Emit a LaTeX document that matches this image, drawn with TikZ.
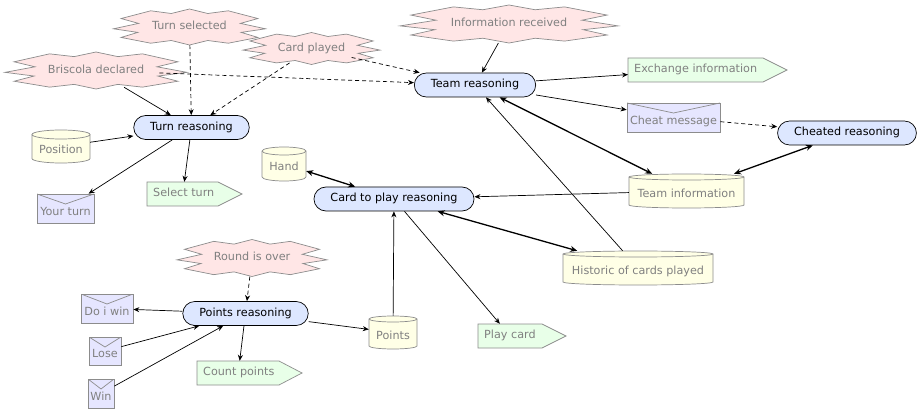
\documentclass[tikz,border=0pt]{standalone}
\usepackage{fontspec}
\setmainfont{DejaVu Sans}
\usetikzlibrary{shapes.geometric,arrows.meta}
\definecolor{burstfill}{RGB}{255,230,230}
\definecolor{reasonfill}{RGB}{221,231,255}
\definecolor{cylfill}{RGB}{255,255,230}
\definecolor{envfill}{RGB}{230,230,255}
\definecolor{sigfill}{RGB}{232,255,232}
\definecolor{bordergray}{RGB}{140,140,140}
\definecolor{textgray}{RGB}{128,128,128}
\newcommand\diafont{\fontsize{11.2}{13}\selectfont}
\tikzset{
  edge/.style={draw=black, line width=0.7pt, -{Stealth[length=6pt,width=5pt]}},
  dashedge/.style={edge, dash pattern=on 4pt off 3pt},
  dbl/.style={draw=black, line width=1.3pt, {Stealth[length=7pt,width=6pt]}-{Stealth[length=7pt,width=6pt]}},
  reason/.style={rectangle, rounded corners=12pt, draw=black, line width=0.7pt, fill=reasonfill,
    minimum height=24pt, inner xsep=16.5pt, inner ysep=0pt, text height=8.5pt, text depth=2.6pt, font=\diafont},
  burstline/.style={draw=bordergray, line width=0.7pt, fill=burstfill},
  burstnode/.style={ellipse, inner sep=0pt, text=textgray, font=\diafont, text height=8.5pt, text depth=2.6pt},
  cylline/.style={draw=bordergray, line width=0.7pt, fill=cylfill},
  cylnode/.style={rectangle, inner sep=0pt, text=textgray, font=\diafont, text height=16.5pt, text depth=2.6pt},
  env/.style={rectangle, draw=bordergray, line width=0.7pt, fill=envfill, inner sep=0pt, text=textgray,
    font=\diafont, text height=16.5pt, text depth=2.6pt,
    path picture={\draw[bordergray, line width=0.7pt] (path picture bounding box.north west) --
      ([yshift=-10pt]path picture bounding box.north) -- (path picture bounding box.north east);}},
  sigline/.style={draw=bordergray, line width=0.7pt, fill=sigfill},
  signode/.style={rectangle, inner xsep=6pt, inner ysep=0pt, text=textgray, font=\diafont,
    text height=8.5pt, text depth=2.6pt}
}
% burst: name, cx, cy, W, H, text
\newcommand\burst[6]{%
  \begin{scope}[shift={(#2,#3)}, x=#4pt, y=-#5pt]
    \draw[burstline] (-0.51,-0.9) -- (-0.24,-0.75) -- (0,-1) -- (0.24,-0.75) -- (0.51,-0.9)
      -- (0.9,-0.47) -- (0.67,-0.2) -- (1,0.1) -- (0.68,0.3) -- (0.9,0.58) -- (0.51,0.9)
      -- (0.24,0.75) -- (0,1) -- (-0.24,0.75) -- (-0.51,0.9) -- (-0.9,0.58) -- (-0.68,0.3)
      -- (-1,0.1) -- (-0.67,-0.2) -- (-0.9,-0.47) -- cycle;
  \end{scope}
  \node[burstnode, minimum width={#4*1.4pt}, minimum height={#5*2pt}] (#1) at (#2,#3) {\makebox[0pt]{#6}};
}
% cylinder: name, cx, cy, w, h, ry, text
\newcommand\cyl[7]{%
  \pgfmathsetmacro\cylL{#2-#4/2}%
  \pgfmathsetmacro\cylR{#2+#4/2}%
  \pgfmathsetmacro\cylT{#3-#5/2+#6}%
  \pgfmathsetmacro\cylB{#3+#5/2-#6}%
  \pgfmathsetmacro\cylRX{#4/2}%
  \draw[cylline] (\cylL,\cylT) -- (\cylL,\cylB) arc[start angle=180, end angle=360, x radius=\cylRX pt, y radius=#6pt]
    -- (\cylR,\cylT) arc[start angle=0, end angle=180, x radius=\cylRX pt, y radius=#6pt] -- cycle;
  \draw[draw=bordergray, line width=0.7pt] (\cylL,\cylT) arc[start angle=180, end angle=360, x radius=\cylRX pt, y radius=#6pt];
  \node[cylnode, minimum width=#4pt, minimum height=#5pt] (#1) at (#2,#3) {#7};
}
% signal: name, x0, y0, x1, x2, h, text
\newcommand\sig[7]{%
  \pgfmathsetmacro\sigM{#3+#6/2}%
  \pgfmathsetmacro\sigB{#3+#6}%
  \pgfmathsetmacro\sigW{#4-#2-12}%
  \draw[sigline] (#2,#3) -- (#4,#3) -- (#5,\sigM) -- (#4,\sigB) -- (#2,\sigB) -- cycle;
  \node[signode, anchor=west, minimum height=#6pt] (#1) at (#2,\sigM) {\makebox[\sigW pt][l]{#7}};
}
\begin{document}
\begin{tikzpicture}[x=1pt, y=-1pt]
\useasboundingbox (0,0) rectangle (924,414);
\fill[white] (0,0) rectangle (924,414);

% events
\burst{ts}{189.5}{27}{76}{18}{Turn selected}
\burst{cp}{311.5}{48.5}{68.5}{16}{Card played}
\burst{bd}{96}{70.5}{91}{18.5}{Briscola declared}
\burst{ir}{509}{24}{109}{19}{Information received}
\burst{rio}{252}{258}{75}{18.5}{Round is over}

% reasoning
\node[reason] (tr) at (191.5,127.5) {Turn reasoning};
\node[reason] (team) at (475,85) {Team reasoning};
\node[reason] (ctp) at (394,199) {Card to play reasoning};
\node[reason] (cr) at (847,133) {Cheated reasoning};
\node[reason] (pr) at (245.5,313.5) {Points reasoning};

% data
\cyl{pos}{61}{146.5}{58}{33}{4.5}{Position}
\cyl{hand}{284}{164}{44}{34}{4}{Hand}
\cyl{ti}{686.5}{191}{115}{34}{3}{Team information}
\cyl{hist}{638}{268}{150}{34}{3}{Historic of cards played}
\cyl{ptsc}{393}{332.5}{48}{33}{3}{Points}

% messages
\node[env, minimum width=93pt, minimum height=29pt] (cm) at (673.5,117.5) {Cheat message};
\node[env, minimum width=57pt, minimum height=29pt] (yt) at (65.5,208.5) {Your turn};
\node[env, minimum width=52pt, minimum height=29pt] (diw) at (107,308.5) {Do i win};
\node[env, minimum width=32pt, minimum height=28pt] (lose) at (105,351) {Lose};
\node[env, minimum width=26pt, minimum height=29pt] (win) at (101,393.5) {Win};

% actions
\sig{ei}{628}{58}{763}{787}{24}{Exchange information}
\sig{st}{147}{182}{218}{242}{24}{Select turn}
\sig{cpts}{197}{361}{279}{302}{24}{Count points}
\sig{pc}{478}{324}{542}{566}{24}{Play card}

% connectors
\draw[dashedge] (ts) -- (tr);
\draw[dashedge] (cp) -- (tr);
\draw[dashedge] (cp) -- (team);
\draw[dashedge] (bd) -- (team);
\draw[edge] (bd) -- (tr);
\draw[edge] (ir) -- (team);
\draw[edge] (team) -- (ei);
\draw[edge] (team) -- (cm);
\draw[dashedge] (cm) -- (cr);
\draw[dbl] (cr) -- (ti);
\draw[dbl] (team) -- (ti);
\draw[edge] (hist) -- (team);
\draw[edge] (ti) -- (ctp);
\draw[dbl] (hand) -- (ctp);
\draw[dbl] (ctp) -- (hist);
\draw[edge] (ctp) -- (pc);
\draw[edge] (ptsc) -- (ctp);
\draw[edge] (pos) -- (tr);
\draw[edge] (tr) -- (yt);
\draw[edge] (tr) -- (st);
\draw[dashedge] (rio) -- (pr);
\draw[edge] (pr) -- (diw);
\draw[edge] (lose) -- (pr);
\draw[edge] (win) -- (pr);
\draw[edge] (pr) -- (cpts);
\draw[edge] (pr) -- (ptsc);
\end{tikzpicture}
\end{document}
